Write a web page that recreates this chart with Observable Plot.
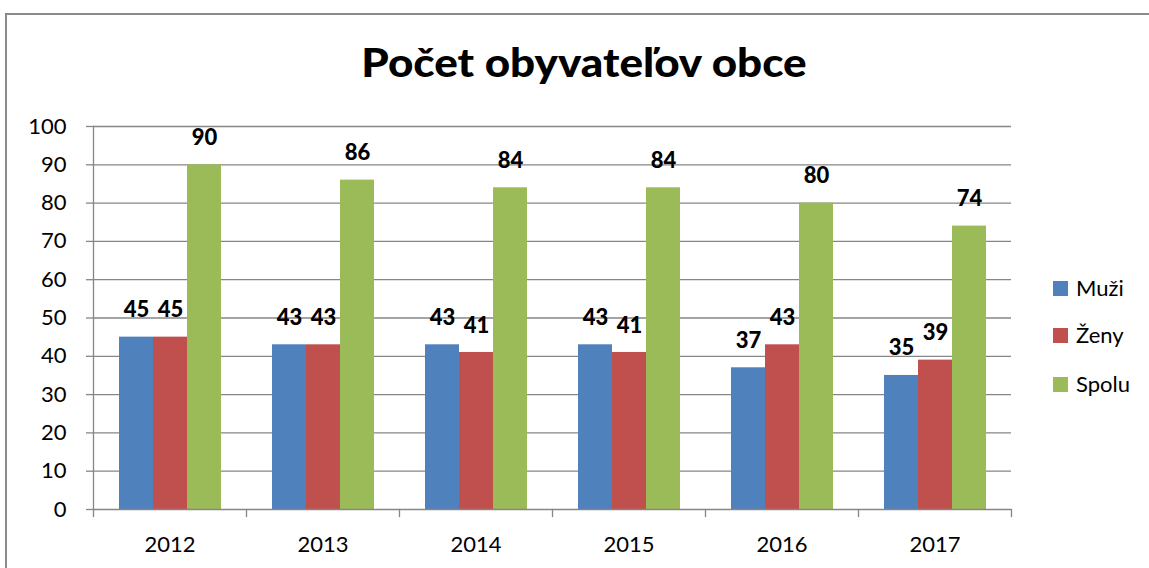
<!DOCTYPE html>
<html>
<head>
<meta charset="utf-8">
<script src="https://cdn.jsdelivr.net/npm/d3@7"></script>
<script src="https://cdn.jsdelivr.net/npm/@observablehq/plot@0.6"></script>
<style>
  html, body { margin: 0; padding: 0; background: #fff; }
  #wrap { position: relative; width: 1149px; height: 568px; overflow: hidden; background: #fff; font-family: Lato, "Open Sans", sans-serif; }
  #border { position: absolute; left: 5px; top: 13px; width: 1200px; height: 600px; border-top: 2px solid #8a8a8a; border-left: 2px solid #8a8a8a; }
  #title { position: absolute; left: 584px; top: 42px; transform: translateX(-50%) scaleX(1.1); white-space: nowrap; font-weight: 900; font-size: 40px; line-height: 1; color: #000; }
  #chart { position: absolute; left: 0; top: 0; }
  .lg-sw { position: absolute; width: 15px; height: 15px; }
  .lg-tx { position: absolute; font-size: 22px; line-height: 1; color: #000; white-space: nowrap; }
</style>
</head>
<body>
<div id="wrap">
  <div id="border"></div>
  <div id="chart"></div>
  <div id="title">Počet obyvateľov obce</div>
  <div id="legend"></div>
</div>
<script>
const years = ["2012", "2013", "2014", "2015", "2016", "2017"];
const series = ["Muži", "Ženy", "Spolu"];
const muzi = [45, 43, 43, 43, 37, 35];
const zeny = [45, 43, 41, 41, 43, 39];
const spolu = [90, 86, 84, 84, 80, 74];
const colors = ["#4F81BD", "#C0504D", "#9BBB59"];
const yTicks = [0, 10, 20, 30, 40, 50, 60, 70, 80, 90, 100];

const seriesValues = [muzi, zeny, spolu];
const data = years.flatMap((year, i) =>
  series.map((s, j) => ({year, series: s, value: seriesValues[j][i]}))
);

const W = 1149, H = 568;
const mt = 126, mb = 59, ml = 92, mr = 138;
const plotH = H - mt - mb;
const gray = "#868686";

const chart = Plot.plot({
  width: W,
  height: H,
  marginTop: mt,
  marginBottom: mb,
  marginLeft: ml,
  marginRight: mr,
  style: {fontFamily: "Lato, 'Open Sans', sans-serif", fontSize: "22px", color: "#000", background: "transparent", overflow: "visible"},
  fx: {domain: years, padding: 0, label: null},
  x: {domain: series, paddingInner: 0, paddingOuter: 0.75, axis: null},
  y: {domain: [0, 100], label: null},
  color: {domain: series, range: colors},
  marks: [
    Plot.ruleY(yTicks.filter(t => t > 0), {stroke: gray, strokeWidth: 1.3, strokeOpacity: 1}),
    Plot.barY(data, {fx: "year", x: "series", y: "value", fill: "series"}),
    Plot.ruleY([0], {stroke: gray, strokeWidth: 1.3, strokeOpacity: 1}),
    Plot.frame({anchor: "left", facetAnchor: "left", stroke: gray, strokeWidth: 1.3, strokeOpacity: 1}),
    Plot.frame({anchor: "left", insetTop: plotH, insetBottom: -7, stroke: gray, strokeWidth: 1.3, strokeOpacity: 1}),
    Plot.frame({anchor: "right", facetAnchor: "right", insetTop: plotH, insetBottom: -7, stroke: gray, strokeWidth: 1.3, strokeOpacity: 1}),
    Plot.axisY({ticks: yTicks, tickSize: 7, tickPadding: 20, stroke: gray, strokeWidth: 1.3, strokeOpacity: 1, fontSize: 22, label: null, tickFormat: d => String(d)}),
    Plot.axisFx({anchor: "bottom", tickSize: 0, tickPadding: 27, fontSize: 22, label: null}),
    Plot.text(data, {fx: "year", x: "series", y: "value", text: d => String(d.value), dy: -27, fontWeight: 900, fontSize: 22, fill: "#000"})
  ]
});
document.getElementById("chart").appendChild(chart);

// Legend
const legend = document.getElementById("legend");
const legendTops = [281, 328, 377];
series.forEach((s, i) => {
  const sw = document.createElement("div");
  sw.className = "lg-sw";
  sw.style.left = "1053px";
  sw.style.top = legendTops[i] + "px";
  sw.style.background = colors[i];
  legend.appendChild(sw);
  const tx = document.createElement("div");
  tx.className = "lg-tx";
  tx.style.left = "1076px";
  tx.style.top = (legendTops[i] + 15 - 19.5) + "px";
  tx.textContent = s;
  legend.appendChild(tx);
});
</script>
</body>
</html>
